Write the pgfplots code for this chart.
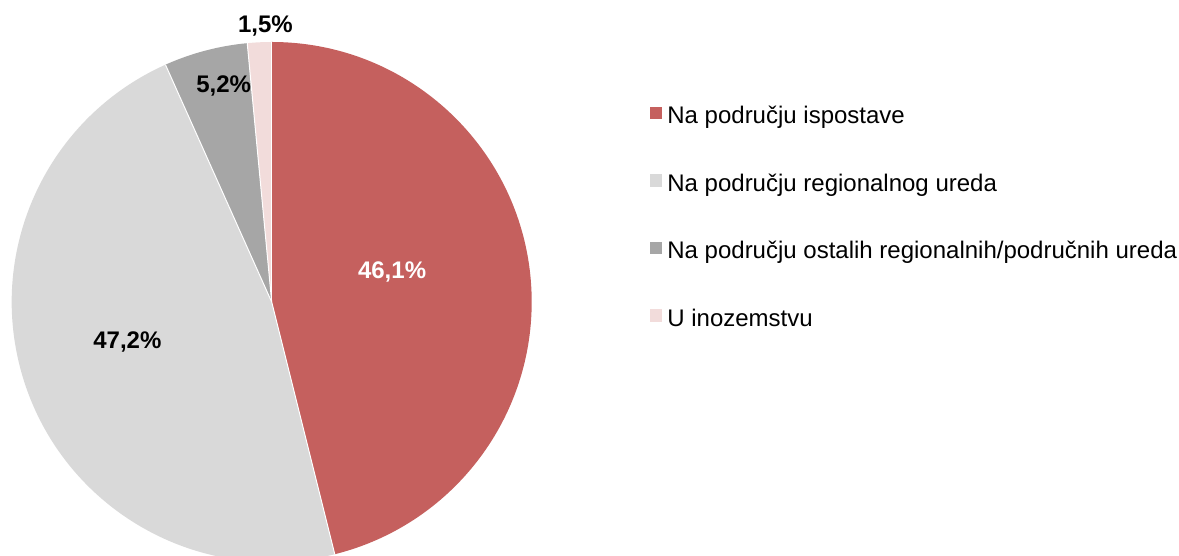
\documentclass[border=0pt]{standalone}
\usepackage{pgfplots}
\pgfplotsset{compat=1.18}
\usepackage{fontspec}
\setmainfont{Liberation Sans}
\definecolor{cRed}{RGB}{197,96,94}
\definecolor{cLight}{RGB}{217,217,217}
\definecolor{cDark}{RGB}{166,166,166}
\definecolor{cPink}{RGB}{242,220,219}
% shares in percent
\def\va{46.1}\def\vb{47.2}\def\vc{5.2}\def\vd{1.5}
\pgfmathsetmacro\aA{90}
\pgfmathsetmacro\aB{\aA-3.6*\va}
\pgfmathsetmacro\aC{\aB-3.6*\vb}
\pgfmathsetmacro\aD{\aC-3.6*\vc}
\pgfmathsetmacro\aE{\aD-3.6*\vd}
\def\R{130pt}
\begin{document}
\begin{tikzpicture}
\useasboundingbox (0,0) rectangle (589.5pt,278pt);
\begin{axis}[
  at={(135.85pt,127pt)}, anchor=center,
  width=260pt, height=260pt, scale only axis,
  xmin=-1, xmax=1, ymin=-1, ymax=1,
  hide axis, clip=false,
  legend image code/.code={\fill[#1, draw=none] (0pt,-1pt) rectangle (6.2pt,5.2pt);},
  legend style={at={(1.2275,0.6606)}, anchor=west, draw=none, fill=none,
    inner sep=0pt, outer sep=0pt, font=\fontsize{12}{14.4}\selectfont,
    nodes={inner sep=0pt, text height=9pt, text depth=2.5pt},
    row sep=22.25pt,
    /tikz/every odd column/.append style={column sep=2.5pt}},
  legend cell align=left,
]
\fill[cRed]   (axis cs:0,0) -- ++(\aA:\R) arc[start angle=\aA, end angle=\aB, radius=\R] -- cycle;
\fill[cLight] (axis cs:0,0) -- ++(\aB:\R) arc[start angle=\aB, end angle=\aC, radius=\R] -- cycle;
\fill[cDark]  (axis cs:0,0) -- ++(\aC:\R) arc[start angle=\aC, end angle=\aD, radius=\R] -- cycle;
\fill[cPink]  (axis cs:0,0) -- ++(\aD:\R) arc[start angle=\aD, end angle=\aE, radius=\R] -- cycle;
\draw[white, line width=0.5pt] (axis cs:0,0) -- ++(\aA:\R);
\draw[white, line width=0.5pt] (axis cs:0,0) -- ++(\aB:\R);
\draw[white, line width=0.5pt] (axis cs:0,0) -- ++(\aC:\R);
\draw[white, line width=0.5pt] (axis cs:0,0) -- ++(\aD:\R);
\addlegendimage{fill=cRed, draw=none}\addlegendentry{Na području ispostave}
\addlegendimage{fill=cLight, draw=none}\addlegendentry{Na području regionalnog ureda}
\addlegendimage{fill=cDark, draw=none}\addlegendentry{Na području ostalih regionalnih/područnih ureda}
\addlegendimage{fill=cPink, draw=none}\addlegendentry{U inozemstvu}
\node[font=\fontsize{12}{14.4}\selectfont\bfseries, text=white] at (axis cs:0.463,0.115) {46,1\%};
\node[font=\fontsize{12}{14.4}\selectfont\bfseries] at (axis cs:-0.555,-0.154) {47,2\%};
\node[font=\fontsize{12}{14.4}\selectfont\bfseries] at (axis cs:-0.185,0.831) {5,2\%};
\node[font=\fontsize{12}{14.4}\selectfont\bfseries] at (axis cs:-0.024,1.063) {1,5\%};
\end{axis}
\end{tikzpicture}
\end{document}
